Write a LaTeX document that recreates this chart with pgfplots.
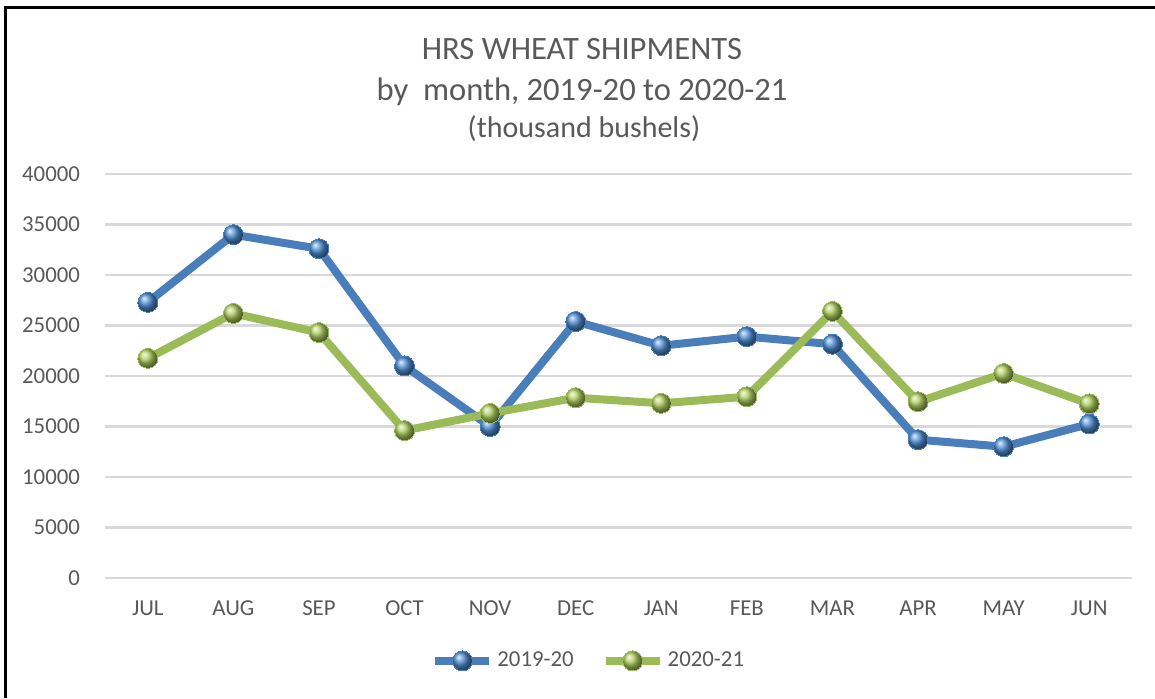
\documentclass[border=0pt]{standalone}
\usepackage{fontspec}
\setmainfont{Carlito}
\usepackage{pgfplots}
\pgfplotsset{compat=1.18}
\definecolor{txt}{HTML}{595959}
\definecolor{gridc}{HTML}{D9D9D9}
\definecolor{sblue}{HTML}{4A7EBB}
\definecolor{sgreen}{HTML}{9BBB59}
\definecolor{bblue}{HTML}{4F8FD6}
\definecolor{bgreen}{HTML}{B0D060}
\begin{document}
\begin{tikzpicture}
\begin{scope}[x=0.5pt,y=0.5pt]
\useasboundingbox (0,0) rectangle (1155,698);
\draw[line width=1.6pt,black] (5.5,0) -- (5.5,690.5) -- (1155,690.5);
\node[anchor=base,text=txt,font=\fontsize{16.3}{19}\selectfont] at (582,639) {HRS WHEAT SHIPMENTS};
\node[anchor=base,text=txt,font=\fontsize{16.3}{19}\selectfont] at (582,597) {by\ \ month,\ 2019-20 to 2020-21};
\node[anchor=base,text=txt,font=\fontsize{15}{18}\selectfont] at (584,561) {(thousand bushels)};
\end{scope}
\begin{axis}[
  at={(52.5pt,60pt)}, anchor=south west,
  scale only axis, width=513.5pt, height=202pt,
  xmin=-0.5, xmax=11.5, ymin=0, ymax=40000,
  xtick={0,...,11},
  xticklabels={JUL,AUG,SEP,OCT,NOV,DEC,JAN,FEB,MAR,APR,MAY,JUN},
  ytick={0,5000,...,40000},
  axis line style={draw=none},
  major tick length=0pt,
  xmajorgrids=false,
  ymajorgrids=true,
  major grid style={draw=gridc, line width=1.1pt},
  /pgf/number format/assume math mode=true,
  scaled y ticks=false,
  yticklabel style={/pgf/number format/1000 sep={}, xshift=-9pt},
  xticklabel style={yshift=-8pt},
  tick label style={text=txt, font=\fontsize{11.4}{13}\selectfont},
  legend columns=2,
  legend style={draw=none, fill=none, at={(0.472,-0.205)}, anchor=center,
    font=\fontsize{11.4}{13}\selectfont, text=txt,
    /tikz/every even column/.append style={column sep=12pt}},
  legend image code/.code={\draw[#1, mark repeat=2, mark phase=2] plot coordinates {(0pt,0pt) (13.5pt,0pt) (27pt,0pt)};},
]
\addplot[sblue, line width=4pt, mark=ball, mark size=5pt, mark options={ball color=bblue, line width=0pt}]
  coordinates {(0,27300) (1,34000) (2,32600) (3,21000) (4,15000) (5,25400) (6,23000) (7,23900) (8,23150) (9,13700) (10,13000) (11,15250)};
\addlegendentry{2019-20}
\addplot[sgreen, line width=4pt, mark=ball, mark size=5pt, mark options={ball color=bgreen, line width=0pt}]
  coordinates {(0,21750) (1,26200) (2,24300) (3,14600) (4,16300) (5,17850) (6,17300) (7,17950) (8,26400) (9,17450) (10,20250) (11,17250)};
\addlegendentry{2020-21}
\end{axis}
\end{tikzpicture}
\end{document}
